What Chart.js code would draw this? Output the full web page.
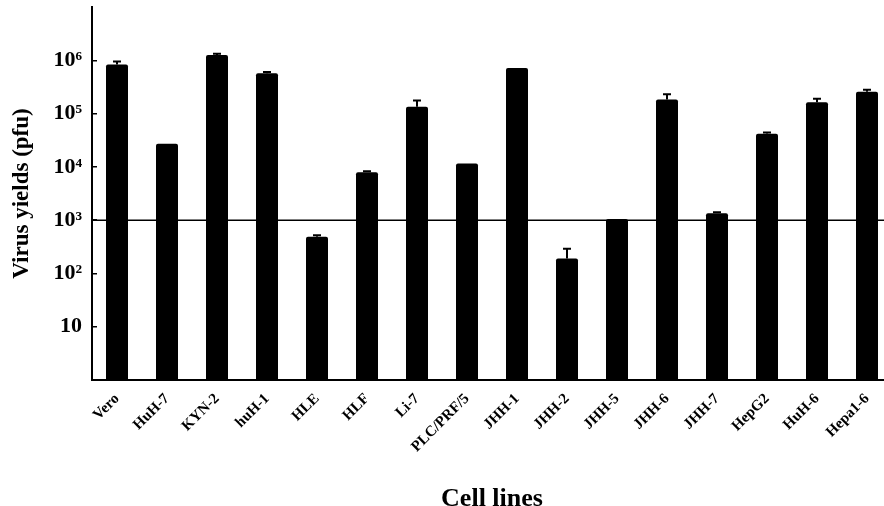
<!DOCTYPE html>
<html>
<head>
<meta charset="utf-8">
<script src="https://cdn.jsdelivr.net/npm/chart.js@4/dist/chart.umd.min.js"></script>
<style>
  html, body { margin: 0; padding: 0; background: #fff; overflow: hidden; }
  #wrap { width: 884px; height: 506px; overflow: hidden; }
</style>
</head>
<body>
<div id="wrap"><canvas id="yieldChart" width="900" height="520"></canvas></div>
<script>
// cell lines and virus yields (pfu)
const cellLines = ['Vero', 'HuH-7', 'KYN-2', 'huH-1', 'HLE', 'HLF', 'Li-7', 'PLC/PRF/5',
  'JHH-1', 'JHH-2', 'JHH-5', 'JHH-6', 'JHH-7', 'HepG2', 'HuH-6', 'Hepa1-6'];
const yields = [830000, 27000, 1250000, 570000, 490, 7900, 135000, 11500,
  720000, 190, 1050, 183000, 1340, 42000, 163000, 256000];
// mean + SD (top of the error whisker)
const yieldsUpper = [950000, 28000, 1320000, 600000, 520, 8300, 175000, 12000,
  740000, 290, 1080, 230000, 1400, 44000, 190000, 280000];
const threshold = 1000;

const tickValues = [10, 100, 1000, 10000, 100000, 1000000];
const tickLabels = ['10', '10\u00B2', '10\u00B3', '10\u2074', '10\u2075', '10\u2076'];

const serif = '"Liberation Serif", "DejaVu Serif", serif';

// horizontal reference line at 10^3
const thresholdLine = {
  id: 'thresholdLine',
  beforeDatasetsDraw(chart) {
    const { ctx, chartArea, scales } = chart;
    const y = scales.y.getPixelForValue(threshold);
    ctx.save();
    ctx.strokeStyle = '#000';
    ctx.lineWidth = 1.5;
    ctx.beginPath();
    ctx.moveTo(chartArea.left, y);
    ctx.lineTo(chartArea.right, y);
    ctx.stroke();
    ctx.restore();
  },
};

// error whiskers with caps
const errorBars = {
  id: 'errorBars',
  afterDatasetsDraw(chart) {
    const { ctx, scales } = chart;
    const meta = chart.getDatasetMeta(0);
    ctx.save();
    ctx.strokeStyle = '#000';
    ctx.lineWidth = 2;
    meta.data.forEach((bar, i) => {
      const yTop = scales.y.getPixelForValue(yieldsUpper[i]);
      if (yTop >= bar.y - 1) return;
      ctx.beginPath();
      ctx.moveTo(bar.x, bar.y);
      ctx.lineTo(bar.x, yTop);
      ctx.moveTo(bar.x - 4, yTop);
      ctx.lineTo(bar.x + 4, yTop);
      ctx.stroke();
    });
    ctx.restore();
  },
};

new Chart(document.getElementById('yieldChart'), {
  type: 'bar',
  data: {
    labels: cellLines,
    datasets: [{
      data: yields,
      backgroundColor: '#000',
      borderRadius: 2,
      borderSkipped: 'bottom',
      barPercentage: 0.44,
      categoryPercentage: 1,
    }],
  },
  options: {
    responsive: false,
    animation: false,
    devicePixelRatio: 1,
    layout: { padding: { top: 7, right: 8, left: 0, bottom: 0 } },
    plugins: { legend: { display: false }, tooltip: { enabled: false } },
    scales: {
      x: {
        grid: { display: false },
        border: { display: true, color: '#000', width: 2 },
        ticks: {
          color: '#000',
          font: { family: serif, size: 15, weight: 'bold' },
          minRotation: 45,
          maxRotation: 45,
          autoSkip: false,
          padding: 2,
        },
        title: {
          display: true,
          text: 'Cell lines',
          color: '#000',
          font: { family: serif, size: 26, weight: 'bold' },
          padding: { top: 0, bottom: 5 },
        },
        afterFit(scale) { scale.height = 140; },
      },
      y: {
        type: 'logarithmic',
        min: 1,
        max: 10000000,
        afterBuildTicks(scale) {
          scale.ticks = tickValues.map(v => ({ value: v }));
        },
        afterFit(scale) {
          scale.width = 92;
          scale.paddingTop = 0;
          scale.paddingBottom = 0;
        },
        grid: {
          drawOnChartArea: false,
          drawTicks: true,
          tickLength: -5,
          color: '#000',
          lineWidth: 1.5,
        },
        border: { display: true, color: '#000', width: 2 },
        ticks: {
          color: '#000',
          font: { family: serif, size: 22, weight: 'bold' },
          padding: 15,
          callback: (v) => {
            const k = tickValues.indexOf(v);
            return k >= 0 ? tickLabels[k] : '';
          },
        },
        title: {
          display: true,
          text: 'Virus yields (pfu)',
          color: '#000',
          font: { family: serif, size: 23, weight: 'bold' },
          padding: 8,
        },
      },
    },
  },
  plugins: [thresholdLine, errorBars],
});
</script>
</body>
</html>
